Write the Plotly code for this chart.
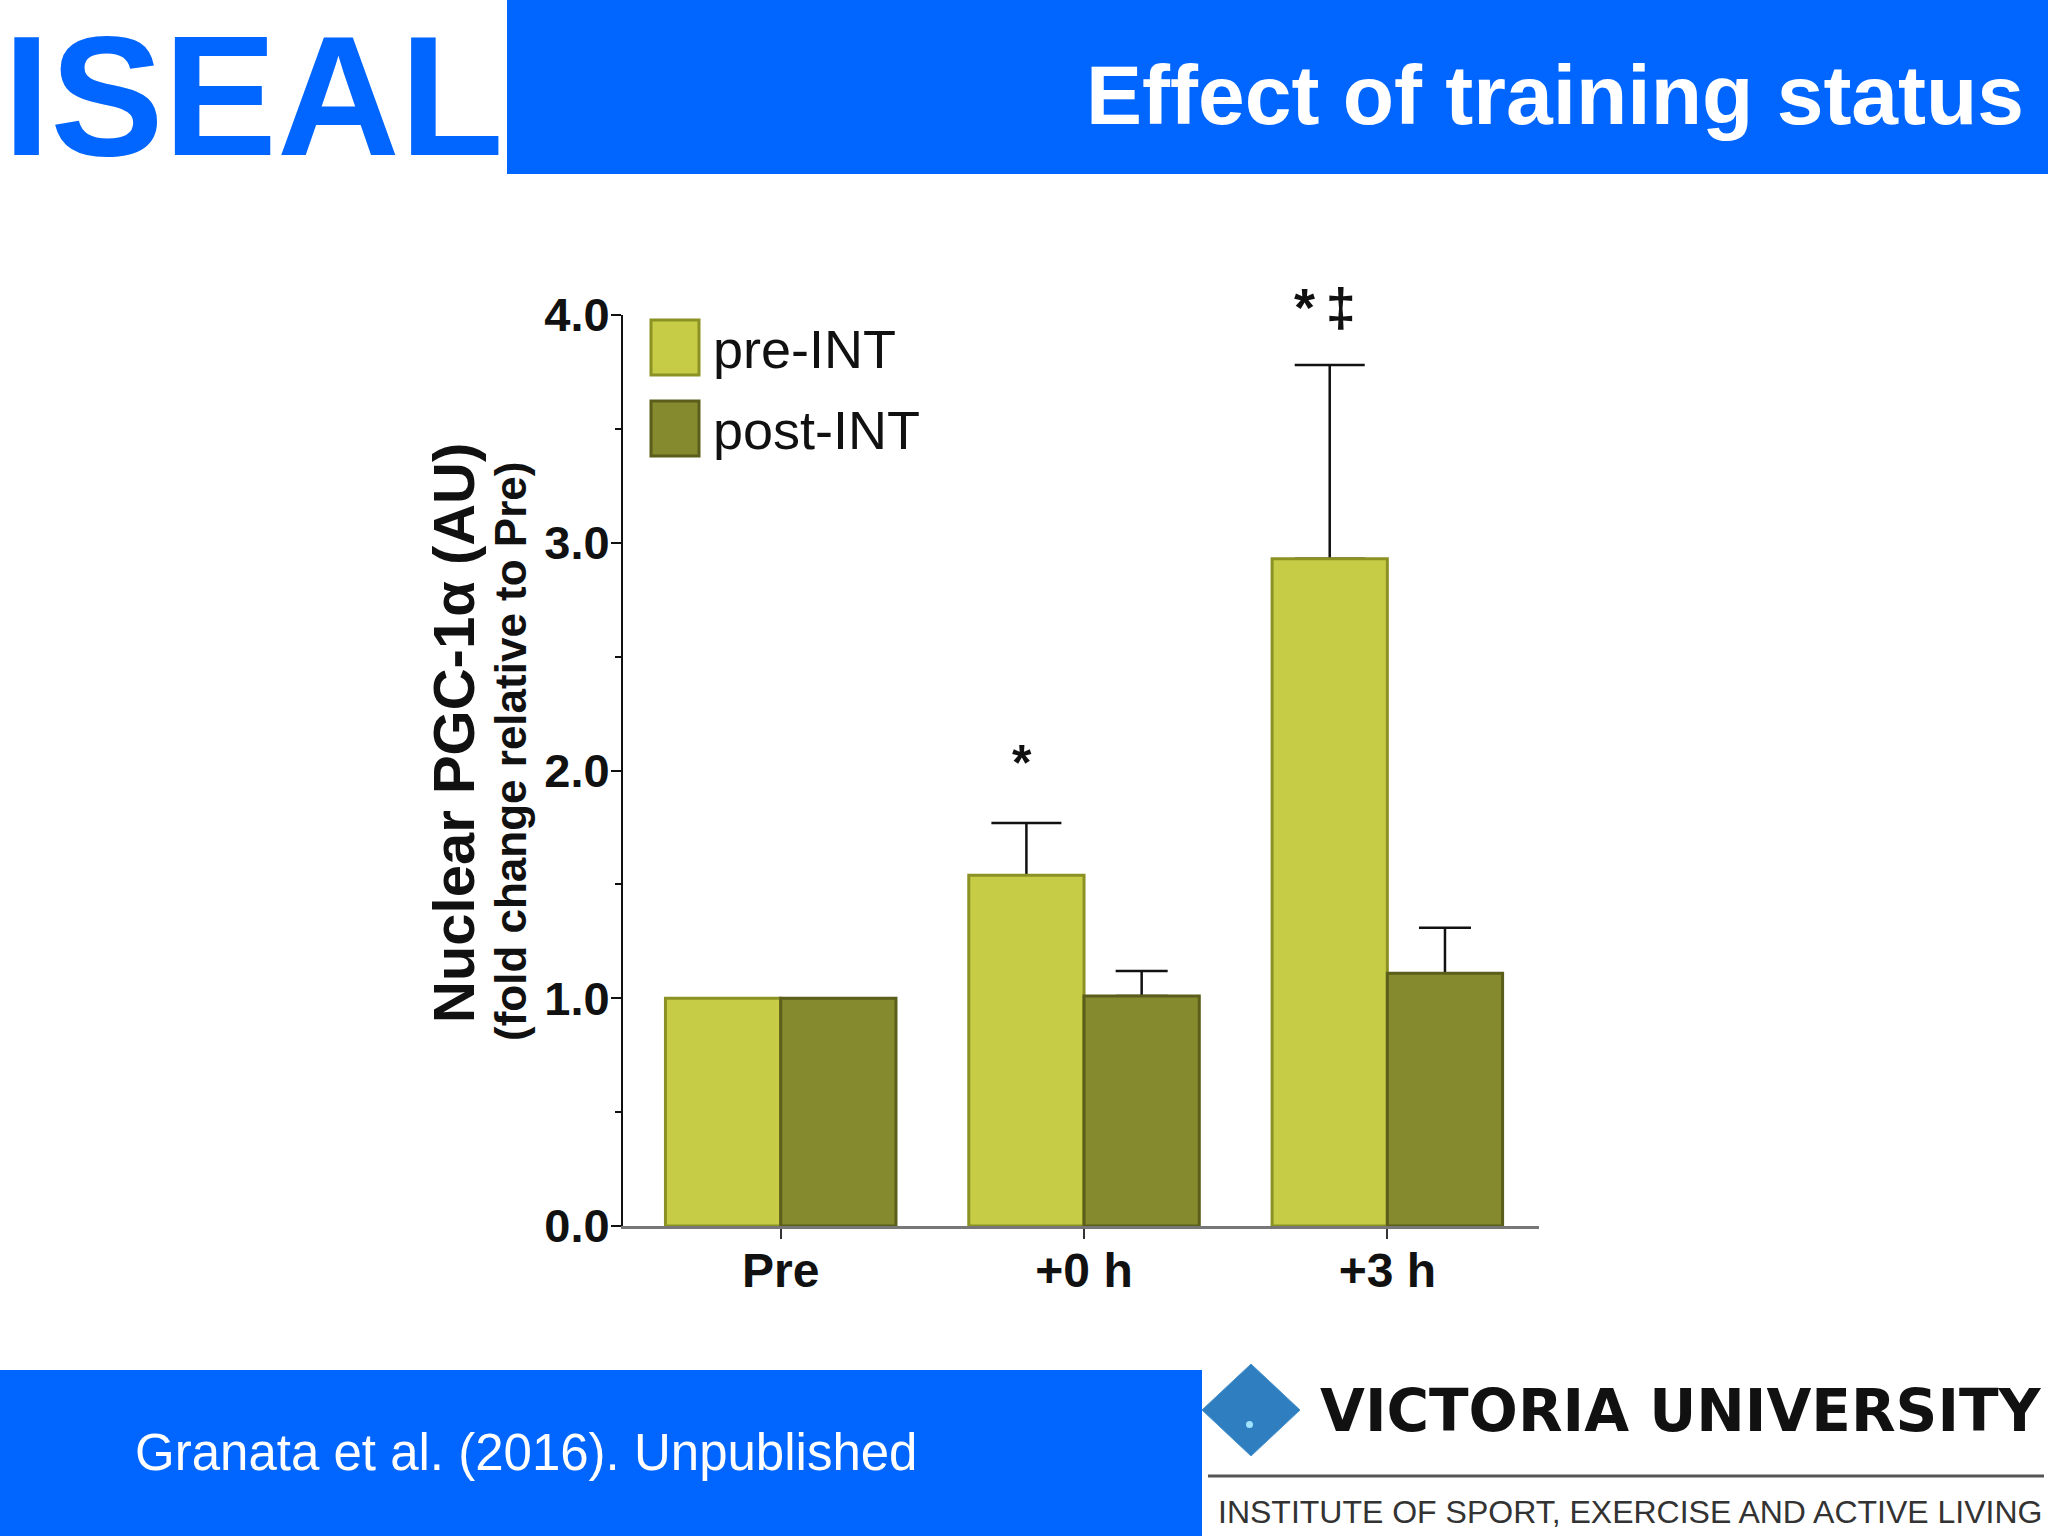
import plotly.graph_objects as go

# ---------------- data ----------------
categories = ["Pre", "+0 h", "+3 h"]
series_names = ["pre-INT", "post-INT"]
pre_int = [1.0, 1.54, 2.93]
post_int = [1.0, 1.01, 1.11]
pre_int_err = [None, 0.23, 0.85]
post_int_err = [None, 0.11, 0.20]
y_ticks = [0, 1, 2, 3, 4]
y_tick_labels = ["0.0", "1.0", "2.0", "3.0", "4.0"]
sig_labels = [None, "*", "*\u2009\u2021"]

colors = ["#C6CC46", "#858A2E"]
edge_colors = ["#8C9124", "#5A5E1A"]
FONT = "Liberation Sans, Arial, sans-serif"
BLUE = "#0066FF"

# ---------------- page geometry (pixels) ----------------
WIDTH, HEIGHT = 2048, 1536
L, R, T, B = 623, 1539, 315, 1226
PW, PH = R - L, B - T


def px(x):
    return (x - L) / PW


def py(y):
    return (B - y) / PH


fig = go.Figure()

# error bars (drawn underneath so the bar tops hide the lower cross-bar)
for vals, errs, grp, cap in [(pre_int, pre_int_err, "pre", 35), (post_int, post_int_err, "post", 26)]:
    fig.add_trace(go.Bar(
        x=categories, y=vals, offsetgroup=grp, showlegend=False, hoverinfo="skip",
        marker=dict(color="rgba(0,0,0,0)", line=dict(width=0)),
        error_y=dict(type="data", array=errs, symmetric=False, arrayminus=[0, 0, 0],
                     color="#111111", thickness=2.5, width=cap),
    ))

fig.add_trace(go.Bar(
    name=series_names[0], x=categories, y=pre_int, offsetgroup="pre",
    marker=dict(color=colors[0], line=dict(color=edge_colors[0], width=3)),
))
fig.add_trace(go.Bar(
    name=series_names[1], x=categories, y=post_int, offsetgroup="post",
    marker=dict(color=colors[1], line=dict(color=edge_colors[1], width=3)),
))

shapes = []
annotations = []

# header band and footer band
shapes.append(dict(type="rect", xref="paper", yref="paper",
                   x0=px(507), x1=px(WIDTH), y0=py(174), y1=py(0),
                   fillcolor=BLUE, line=dict(width=0), layer="below"))
shapes.append(dict(type="rect", xref="paper", yref="paper",
                   x0=px(0), x1=px(1202), y0=py(HEIGHT), y1=py(1370),
                   fillcolor=BLUE, line=dict(width=0), layer="below"))

annotations.append(dict(text="<b>ISEAL</b>", xref="paper", yref="paper",
                        x=px(253), y=py(96), xanchor="center", yanchor="middle",
                        showarrow=False, font=dict(family=FONT, size=170, color=BLUE)))
annotations.append(dict(text="<b>Effect of training status</b>", xref="paper", yref="paper",
                        x=px(2026), y=py(95), xanchor="right", yanchor="middle",
                        showarrow=False, font=dict(family=FONT, size=84, color="white")))
annotations.append(dict(text="Granata et al. (2016). Unpublished", xref="paper", yref="paper",
                        x=px(133), y=py(1452), xanchor="left", yanchor="middle",
                        showarrow=False, font=dict(family=FONT, size=51, color="white")))

# Victoria University logo
cx, cy, hw, hh = 1251, 1410, 49, 46
shapes.append(dict(type="path", xref="paper", yref="paper",
                   path=f"M {px(cx)} {py(cy-hh)} L {px(cx+hw)} {py(cy)} L {px(cx)} {py(cy+hh)} L {px(cx-hw)} {py(cy)} Z",
                   fillcolor="#2E7EC0", line=dict(color="#4A93CC", width=1)))
shapes.append(dict(type="circle", xref="paper", yref="paper",
                   x0=px(1246), x1=px(1253), y0=py(1428), y1=py(1421),
                   fillcolor="#9FE3FF", line=dict(width=0)))
annotations.append(dict(text="<b>VICTORIA UNIVERSITY</b>", xref="paper", yref="paper",
                        x=px(2044), y=py(1411), xanchor="right", yanchor="middle",
                        showarrow=False, font=dict(family="DejaVu Sans, Liberation Sans, sans-serif",
                                                   size=58, color="#111111")))
shapes.append(dict(type="line", xref="paper", yref="paper",
                   x0=px(1208), x1=px(2044), y0=py(1476), y1=py(1476),
                   line=dict(color="#555555", width=3)))
annotations.append(dict(text="INSTITUTE OF SPORT, EXERCISE AND ACTIVE LIVING", xref="paper", yref="paper",
                        x=px(2044), y=py(1512), xanchor="right", yanchor="middle",
                        showarrow=False, font=dict(family=FONT, size=32, color="#333333")))

# y-axis title (two lines)
annotations.append(dict(text="<b>Nuclear PGC-1\u03b1 (AU)</b>", xref="paper", yref="paper",
                        x=px(453), y=py(733), textangle=-90, xanchor="center", yanchor="middle",
                        showarrow=False, font=dict(family=FONT, size=58, color="#111111")))
annotations.append(dict(text="<b>(fold change relative to Pre)</b>", xref="paper", yref="paper",
                        x=px(510), y=py(752), textangle=-90, xanchor="center", yanchor="middle",
                        showarrow=False, font=dict(family=FONT, size=44, color="#111111")))

# significance markers, placed above the error-bar tops
sig_shift = [0, 60, 58]
sig_size = [50, 50, 54]
for cat, lab, v, e, sh, fs in zip(categories, sig_labels, pre_int, pre_int_err, sig_shift, sig_size):
    if lab:
        annotations.append(dict(text=f"<b>{lab}</b>", x=cat, y=v + e, xref="x", yref="y",
                                xshift=-62, yshift=sh, showarrow=False,
                                font=dict(family=FONT, size=fs, color="#111111")))

# custom legend
legend_rows = [347, 428]
for name, col, ecol, yc in zip(series_names, colors, edge_colors, legend_rows):
    shapes.append(dict(type="rect", xref="paper", yref="paper",
                       x0=px(651), x1=px(699), y0=py(yc + 28), y1=py(yc - 27),
                       fillcolor=col, line=dict(color=ecol, width=3)))
    annotations.append(dict(text=name, xref="paper", yref="paper",
                            x=px(711), y=py(yc + 2), xanchor="left", yanchor="middle",
                            showarrow=False, font=dict(family=FONT, size=54, color="#111111")))

fig.update_layout(
    width=WIDTH, height=HEIGHT, autosize=False,
    margin=dict(l=L, r=WIDTH - R, t=T, b=HEIGHT - B, pad=0),
    paper_bgcolor="white", plot_bgcolor="white",
    barmode="group", bargap=0.24, bargroupgap=0.0,
    showlegend=False,
    shapes=shapes, annotations=annotations,
    font=dict(family=FONT, color="#111111"),
)
fig.update_xaxes(
    range=[-0.52, 2.5], showgrid=False, zeroline=False,
    showline=True, linecolor="#777777", linewidth=3,
    ticks="outside", ticklen=10, tickwidth=2, tickcolor="#333333",
    tickfont=dict(family=FONT, size=48, color="#111111", weight="bold"),
    ticklabelstandoff=-10,
)
fig.update_yaxes(
    range=[0, 4], showgrid=False, zeroline=False,
    showline=True, linecolor="#111111", linewidth=2,
    tickvals=y_ticks, ticktext=y_tick_labels,
    ticks="outside", ticklen=10, tickwidth=2, tickcolor="#111111",
    minor=dict(dtick=0.5, ticks="outside", ticklen=6, tickwidth=2, tickcolor="#111111"),
    tickfont=dict(family=FONT, size=47, color="#111111", weight="bold"),
    ticklabelstandoff=-8,
)

fig.write_html("out.html", config={"displayModeBar": False},
               post_script="document.body.style.margin='0';")
